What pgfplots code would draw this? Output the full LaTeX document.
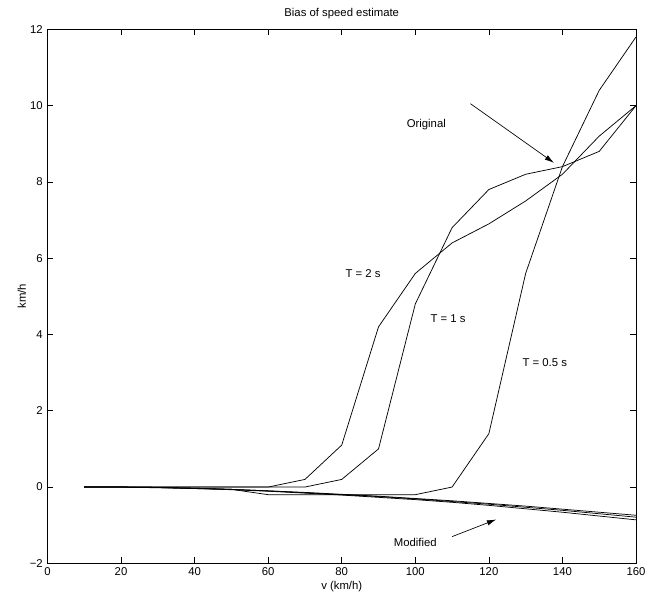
\documentclass[border=0pt]{standalone}
\usepackage{fontspec}
\setmainfont{Liberation Sans}
\usepackage{pgfplots}
\pgfplotsset{compat=1.18}
\usetikzlibrary{arrows.meta}

\pgfplotstableread{
v    T2    T1    T05    M1     M2     M3
10   0     0     0      0      0      0
20   0     0     0      0      0      0
30   0     0     -0.02  -0.01  -0.01  -0.01
40   0     0     -0.04  -0.03  -0.03  -0.04
50   0     0     -0.06  -0.06  -0.06  -0.07
60   0     0     -0.2   -0.10  -0.10  -0.11
70   0.2   0     -0.2   -0.14  -0.15  -0.16
80   1.1   0.2   -0.2   -0.19  -0.20  -0.21
90   4.2   1.0   -0.2   -0.24  -0.25  -0.27
100  5.6   4.8   -0.2   -0.30  -0.31  -0.33
110  6.4   6.8   0      -0.36  -0.38  -0.40
120  6.9   7.8   1.4    -0.43  -0.45  -0.48
130  7.5   8.2   5.6    -0.50  -0.53  -0.57
140  8.2   8.4   8.4    -0.58  -0.61  -0.66
150  9.2   8.8   10.4   -0.66  -0.70  -0.76
160  10.0  10.0  11.8   -0.74  -0.79  -0.86
}\biasdata

\begin{document}
\begin{tikzpicture}
\useasboundingbox (-35.6pt,-32.25pt) rectangle (464.65pt,422.5pt);
\begin{axis}[
  width=441.4pt, height=400.5pt, scale only axis,
  xmin=0, xmax=160, ymin=-2, ymax=12,
  xtick={0,20,...,160}, ytick={-2,0,...,12},
  yticklabels={−2,0,2,4,6,8,10,12},
  tick align=inside, major tick length=4.5pt,
  axis line style={line width=0.75pt},
  every tick/.style={black, line width=0.5pt},
  tick label style={font=\fontsize{8.5}{10}\selectfont},
  label style={font=\fontsize{8.5}{10}\selectfont},
  title style={font=\fontsize{8.5}{10}\selectfont, yshift=-2pt},
  /pgf/number format/assume math mode=true,
  title={Bias of speed estimate},
  xlabel={v (km/h)}, ylabel={km/h},
  xlabel style={yshift=3pt}, ylabel style={yshift=-4pt},
  curve/.style={black, line width=0.55pt, mark=none},
]
\addplot[curve] table[x=v, y=T2] {\biasdata};
\addplot[curve] table[x=v, y=T1] {\biasdata};
\addplot[curve] table[x=v, y=T05] {\biasdata};
\addplot[curve] table[x=v, y=M1] {\biasdata};
\addplot[curve] table[x=v, y=M2] {\biasdata};
\addplot[curve] table[x=v, y=M3] {\biasdata};

\begin{scope}[font=\fontsize{8.5}{10}\selectfont]
\node at (axis cs:103,9.5) {Original};
\node at (axis cs:85.8,5.6) {T = 2 s};
\node at (axis cs:108.9,4.42) {T = 1 s};
\node at (axis cs:135.2,3.26) {T = 0.5 s};
\node at (axis cs:100,-1.45) {Modified};
\end{scope}
\draw[-{Latex[length=7pt,width=4pt]}, line width=0.5pt] (axis cs:115,10.05) -- (axis cs:137.7,8.5);
\draw[-{Latex[length=7pt,width=4pt]}, line width=0.5pt] (axis cs:110,-1.3) -- (axis cs:122,-0.85);
\end{axis}
\end{tikzpicture}
\end{document}
